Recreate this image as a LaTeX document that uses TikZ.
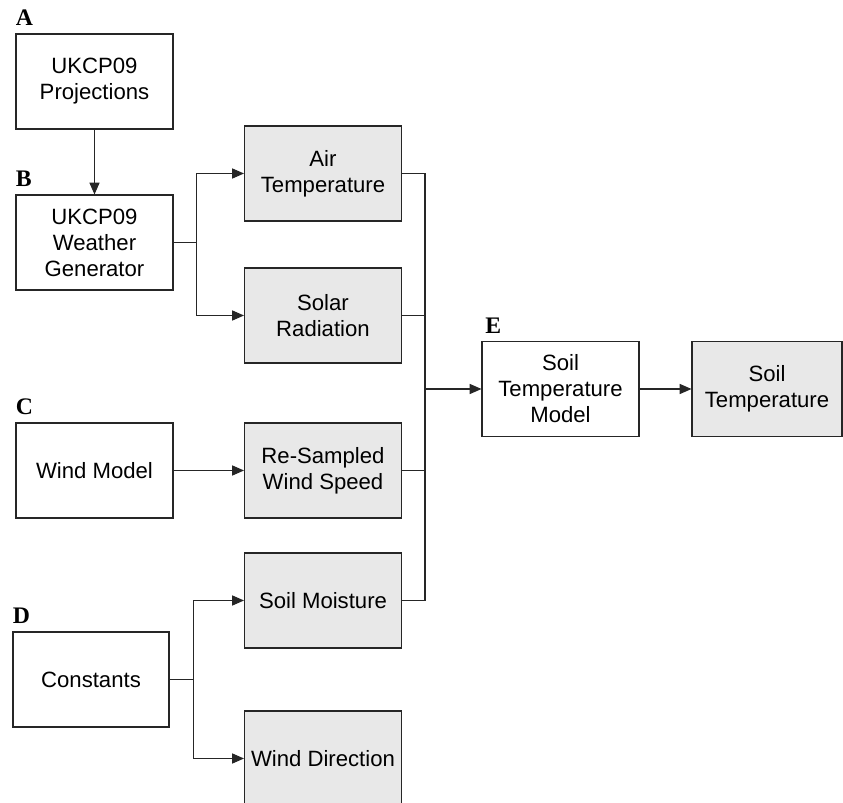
\documentclass[tikz,border=0pt]{standalone}
\usepackage{fontspec}
\setmainfont{Liberation Sans}
\newfontfamily\tagfont{Liberation Serif}
\usetikzlibrary{arrows.meta,calc}

\begin{document}
\begin{tikzpicture}[x=0.02cm,y=-0.02cm,
	box/.style={draw=black!85,line width=0.6pt,fill=white,minimum width=3.14cm,minimum height=1.9cm,
		align=center,inner sep=0pt,font=\fontsize{12.6}{14.8}\selectfont},
	outbox/.style={box,fill=black!9},
	tag/.style={anchor=base west,inner sep=0pt,yshift=4.5pt,font=\tagfont\bfseries\fontsize{13.5}{13.5}\selectfont},
	link/.style={draw=black!85,line width=0.6pt},
	arr/.style={link,-{Triangle[length=6.8pt,width=5.8pt]}}]
	% page frame (picture is cut at the bottom and right)
	\useasboundingbox (0,0) rectangle (843,803);
	\clip (0,0) rectangle (843,803);
	% source models
	\node[box] (proj) at (94.5,81.5) {UKCP09\\Projections};
	\node[box] (wgen) at (94.5,242.5) {UKCP09\\Weather\\Generator};
	\node[box] (wind) at (94.5,470.5) {Wind Model};
	\node[box,minimum width=3.12cm] (const) at (91,679.5) {Constants};
	% variables
	\node[outbox] (air) at (323,173.5) {Air\\Temperature};
	\node[outbox] (solar) at (323,315.5) {Solar\\Radiation};
	\node[outbox] (speed) at (323,470.5) {Re-Sampled\\Wind Speed};
	\node[outbox] (moist) at (323,600.5) {Soil Moisture};
	\node[outbox] (wdir) at (323,758.5) {Wind Direction};
	% soil model and result
	\node[box] (stm) at (560.5,389) {Soil\\Temperature\\Model};
	\node[outbox,minimum width=3.0cm] (stemp) at (767,389) {Soil\\Temperature};
	% letters
	\node[tag] at (proj.north west) {A};
	\node[tag] at (wgen.north west) {B};
	\node[tag] at (wind.north west) {C};
	\node[tag] at (const.north west) {D};
	\node[tag,xshift=2pt] at (stm.north west) {E};
	% connectors
	\draw[arr] (proj) -- (wgen);
	\coordinate (wsplit) at ($(wgen.east)+(23,0)$);
	\draw[link] (wgen.east) -- (wsplit);
	\draw[arr] (wsplit) |- (air.west);
	\draw[arr] (wsplit) |- (solar.west);
	\draw[arr] (wind) -- (speed);
	\coordinate (csplit) at ($(const.east)+(24,0)$);
	\draw[link] (const.east) -- (csplit);
	\draw[arr] (csplit) |- (moist.west);
	\draw[arr] (csplit) |- (wdir.west);
	% collecting bus
	\coordinate (bus) at (425,389);
	\draw[link] (air.east) -| (bus |- moist.east) -- (moist.east);
	\draw[link] (solar.east) -- (bus |- solar.east);
	\draw[link] (speed.east) -- (bus |- speed.east);
	\draw[arr] (bus) -- (stm.west);
	\draw[arr] (stm) -- (stemp);
\end{tikzpicture}
\end{document}
